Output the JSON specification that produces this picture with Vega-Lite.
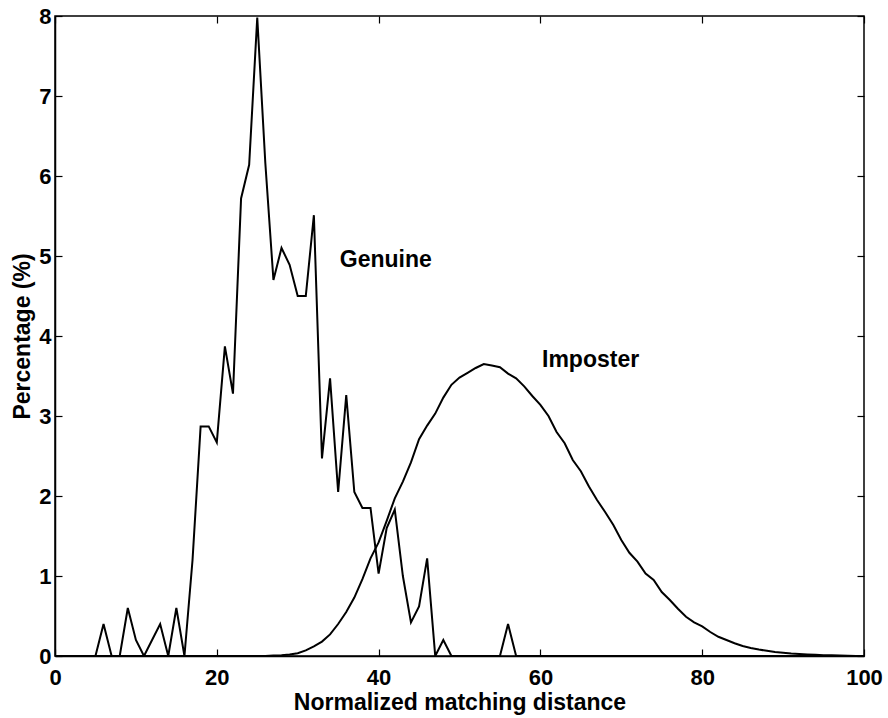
{
  "$schema": "https://vega.github.io/schema/vega-lite/v6.json",
  "width": 809,
  "height": 640,
  "autosize": "none",
  "padding": {"left": 55, "top": 16, "right": 24, "bottom": 62},
  "background": "white",
  "config": {
    "view": {"stroke": "black", "strokeWidth": 1.5},
    "font": "Liberation Sans",
    "axis": {
      "domainColor": "black",
      "domainWidth": 1.5,
      "tickColor": "black",
      "tickWidth": 1.2,
      "tickSize": -7,
      "labelColor": "black",
      "labelFont": "Liberation Sans",
      "labelFontSize": 22,
      "labelFontWeight": "bold",
      "titleColor": "black",
      "titleFont": "Liberation Sans",
      "titleFontSize": 23,
      "titleFontWeight": "bold",
      "grid": false
    }
  },
  "datasets": {
    "curves": [
      {"series": "Genuine", "x": 0, "y": 0},
      {"series": "Genuine", "x": 5, "y": 0},
      {"series": "Genuine", "x": 6, "y": 0.4},
      {"series": "Genuine", "x": 7, "y": 0},
      {"series": "Genuine", "x": 8, "y": 0},
      {"series": "Genuine", "x": 9, "y": 0.6},
      {"series": "Genuine", "x": 10, "y": 0.2},
      {"series": "Genuine", "x": 11, "y": 0},
      {"series": "Genuine", "x": 12, "y": 0.2},
      {"series": "Genuine", "x": 13, "y": 0.4},
      {"series": "Genuine", "x": 14, "y": 0},
      {"series": "Genuine", "x": 15, "y": 0.6},
      {"series": "Genuine", "x": 16, "y": 0},
      {"series": "Genuine", "x": 17, "y": 1.2},
      {"series": "Genuine", "x": 18, "y": 2.87},
      {"series": "Genuine", "x": 19, "y": 2.87},
      {"series": "Genuine", "x": 20, "y": 2.67},
      {"series": "Genuine", "x": 21, "y": 3.87},
      {"series": "Genuine", "x": 22, "y": 3.28},
      {"series": "Genuine", "x": 23, "y": 5.72},
      {"series": "Genuine", "x": 24, "y": 6.14},
      {"series": "Genuine", "x": 25, "y": 7.98},
      {"series": "Genuine", "x": 26, "y": 6.16},
      {"series": "Genuine", "x": 27, "y": 4.7},
      {"series": "Genuine", "x": 28, "y": 5.1},
      {"series": "Genuine", "x": 29, "y": 4.89},
      {"series": "Genuine", "x": 30, "y": 4.5},
      {"series": "Genuine", "x": 31, "y": 4.5},
      {"series": "Genuine", "x": 32, "y": 5.51},
      {"series": "Genuine", "x": 33, "y": 2.47},
      {"series": "Genuine", "x": 34, "y": 3.47},
      {"series": "Genuine", "x": 35, "y": 2.05},
      {"series": "Genuine", "x": 36, "y": 3.26},
      {"series": "Genuine", "x": 37, "y": 2.05},
      {"series": "Genuine", "x": 38, "y": 1.85},
      {"series": "Genuine", "x": 39, "y": 1.85},
      {"series": "Genuine", "x": 40, "y": 1.03},
      {"series": "Genuine", "x": 41, "y": 1.6},
      {"series": "Genuine", "x": 42, "y": 1.83},
      {"series": "Genuine", "x": 43, "y": 1.0},
      {"series": "Genuine", "x": 44, "y": 0.42},
      {"series": "Genuine", "x": 45, "y": 0.62},
      {"series": "Genuine", "x": 46, "y": 1.22},
      {"series": "Genuine", "x": 47, "y": 0},
      {"series": "Genuine", "x": 48, "y": 0.2},
      {"series": "Genuine", "x": 49, "y": 0},
      {"series": "Genuine", "x": 55, "y": 0},
      {"series": "Genuine", "x": 56, "y": 0.4},
      {"series": "Genuine", "x": 57, "y": 0},
      {"series": "Genuine", "x": 100, "y": 0},
      {"series": "Imposter", "x": 0, "y": 0},
      {"series": "Imposter", "x": 26, "y": 0},
      {"series": "Imposter", "x": 27, "y": 0.005},
      {"series": "Imposter", "x": 28, "y": 0.01},
      {"series": "Imposter", "x": 29, "y": 0.02},
      {"series": "Imposter", "x": 30, "y": 0.035},
      {"series": "Imposter", "x": 31, "y": 0.07},
      {"series": "Imposter", "x": 32, "y": 0.12},
      {"series": "Imposter", "x": 33, "y": 0.18},
      {"series": "Imposter", "x": 34, "y": 0.27},
      {"series": "Imposter", "x": 35, "y": 0.4},
      {"series": "Imposter", "x": 36, "y": 0.55},
      {"series": "Imposter", "x": 37, "y": 0.73},
      {"series": "Imposter", "x": 38, "y": 0.96},
      {"series": "Imposter", "x": 39, "y": 1.22},
      {"series": "Imposter", "x": 40, "y": 1.42},
      {"series": "Imposter", "x": 41, "y": 1.69},
      {"series": "Imposter", "x": 42, "y": 1.97},
      {"series": "Imposter", "x": 43, "y": 2.18},
      {"series": "Imposter", "x": 44, "y": 2.42},
      {"series": "Imposter", "x": 45, "y": 2.71},
      {"series": "Imposter", "x": 46, "y": 2.88},
      {"series": "Imposter", "x": 47, "y": 3.03},
      {"series": "Imposter", "x": 48, "y": 3.23},
      {"series": "Imposter", "x": 49, "y": 3.39},
      {"series": "Imposter", "x": 50, "y": 3.48},
      {"series": "Imposter", "x": 51, "y": 3.54},
      {"series": "Imposter", "x": 52, "y": 3.6},
      {"series": "Imposter", "x": 53, "y": 3.65},
      {"series": "Imposter", "x": 54, "y": 3.63},
      {"series": "Imposter", "x": 55, "y": 3.61},
      {"series": "Imposter", "x": 56, "y": 3.53},
      {"series": "Imposter", "x": 57, "y": 3.47},
      {"series": "Imposter", "x": 58, "y": 3.37},
      {"series": "Imposter", "x": 59, "y": 3.25},
      {"series": "Imposter", "x": 60, "y": 3.14},
      {"series": "Imposter", "x": 61, "y": 3.0},
      {"series": "Imposter", "x": 62, "y": 2.8},
      {"series": "Imposter", "x": 63, "y": 2.66},
      {"series": "Imposter", "x": 64, "y": 2.45},
      {"series": "Imposter", "x": 65, "y": 2.31},
      {"series": "Imposter", "x": 66, "y": 2.12},
      {"series": "Imposter", "x": 67, "y": 1.95},
      {"series": "Imposter", "x": 68, "y": 1.8},
      {"series": "Imposter", "x": 69, "y": 1.64},
      {"series": "Imposter", "x": 70, "y": 1.45},
      {"series": "Imposter", "x": 71, "y": 1.29},
      {"series": "Imposter", "x": 72, "y": 1.18},
      {"series": "Imposter", "x": 73, "y": 1.03},
      {"series": "Imposter", "x": 74, "y": 0.95},
      {"series": "Imposter", "x": 75, "y": 0.8},
      {"series": "Imposter", "x": 76, "y": 0.7},
      {"series": "Imposter", "x": 77, "y": 0.59},
      {"series": "Imposter", "x": 78, "y": 0.49},
      {"series": "Imposter", "x": 79, "y": 0.42},
      {"series": "Imposter", "x": 80, "y": 0.37},
      {"series": "Imposter", "x": 81, "y": 0.3},
      {"series": "Imposter", "x": 82, "y": 0.24},
      {"series": "Imposter", "x": 83, "y": 0.2},
      {"series": "Imposter", "x": 84, "y": 0.16},
      {"series": "Imposter", "x": 85, "y": 0.125},
      {"series": "Imposter", "x": 86, "y": 0.1},
      {"series": "Imposter", "x": 87, "y": 0.08},
      {"series": "Imposter", "x": 88, "y": 0.065},
      {"series": "Imposter", "x": 89, "y": 0.05},
      {"series": "Imposter", "x": 90, "y": 0.04},
      {"series": "Imposter", "x": 91, "y": 0.03},
      {"series": "Imposter", "x": 92, "y": 0.025},
      {"series": "Imposter", "x": 93, "y": 0.02},
      {"series": "Imposter", "x": 94, "y": 0.015},
      {"series": "Imposter", "x": 95, "y": 0.01},
      {"series": "Imposter", "x": 96, "y": 0.008},
      {"series": "Imposter", "x": 97, "y": 0.005},
      {"series": "Imposter", "x": 98, "y": 0.003},
      {"series": "Imposter", "x": 99, "y": 0.001},
      {"series": "Imposter", "x": 100, "y": 0}
    ],
    "labels": [
      {"label": "Genuine", "x": 35.2, "y": 4.95},
      {"label": "Imposter", "x": 60.2, "y": 3.7}
    ]
  },
  "resolve": {"axis": {"x": "independent", "y": "independent"}},
  "layer": [
    {
      "data": {"name": "curves"},
      "mark": {"type": "line", "color": "black", "strokeWidth": 2, "clip": true},
      "encoding": {
        "x": {
          "field": "x", "type": "quantitative",
          "scale": {"domain": [0, 100], "nice": false},
          "axis": {"orient": "bottom", "values": [0, 20, 40, 60, 80, 100], "title": "Normalized matching distance", "labelPadding": 18, "titlePadding": 3, "labelFlush": false}
        },
        "y": {
          "field": "y", "type": "quantitative",
          "scale": {"domain": [0, 8], "nice": false},
          "axis": {"orient": "left", "values": [0, 1, 2, 3, 4, 5, 6, 7, 8], "title": "Percentage (%)", "labelPadding": 11, "titlePadding": 4, "labelFlush": false}
        },
        "detail": {"field": "series"}
      }
    },
    {
      "data": {"name": "labels"},
      "mark": {"type": "text", "align": "left", "baseline": "middle", "fontSize": 23, "fontWeight": "bold", "font": "Liberation Sans", "color": "black"},
      "encoding": {
        "x": {"field": "x", "type": "quantitative", "axis": {"orient": "top", "values": [0, 20, 40, 60, 80, 100], "labels": false, "title": null, "domain": false}},
        "y": {"field": "y", "type": "quantitative", "axis": {"orient": "right", "values": [0, 1, 2, 3, 4, 5, 6, 7, 8], "labels": false, "title": null, "domain": false}},
        "text": {"field": "label"}
      }
    }
  ]
}
